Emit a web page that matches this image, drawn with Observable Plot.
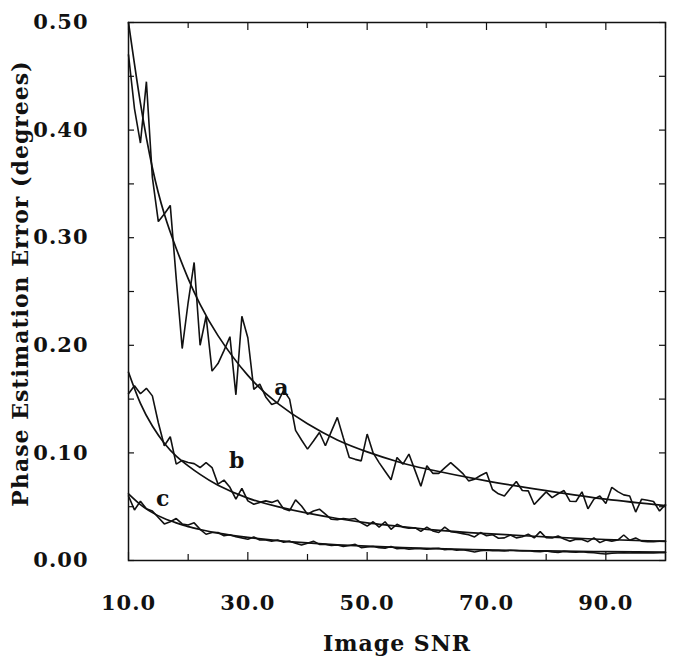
<!DOCTYPE html>
<html>
<head>
<meta charset="utf-8">
<script src="https://cdn.jsdelivr.net/npm/d3@7"></script>
<script src="https://cdn.jsdelivr.net/npm/@observablehq/plot@0.6"></script>
<style>
  html, body { margin: 0; padding: 0; background: #fff; }
  svg { display: block; }
</style>
</head>
<body>
<div id="chart"></div>
<script>
// ---- data ----
const xLabel = "Image SNR";
const yLabel = "Phase Estimation Error (degrees)";
const xTickLabels = [10, 30, 50, 70, 90];
const xMinorTicks = [20, 40, 60, 80, 100];
const yTickLabels = [0, 0.1, 0.2, 0.3, 0.4, 0.5];
const yMinorTicks = [0.05, 0.15, 0.25, 0.35, 0.45];

// smooth fitted curves
const fitX = [10, 12, 14, 16, 18, 20, 22, 25, 30, 35, 40, 45, 50, 55, 60, 70, 80, 90, 100];
const fitA = [0.500, 0.425, 0.365, 0.322, 0.290, 0.262, 0.238, 0.209, 0.172, 0.146, 0.127, 0.112, 0.101, 0.092, 0.085, 0.074, 0.065, 0.057, 0.051];
const fitB = [0.175, 0.146, 0.125, 0.109, 0.097, 0.088, 0.080, 0.070, 0.058, 0.050, 0.044, 0.039, 0.035, 0.032, 0.029, 0.025, 0.022, 0.0195, 0.0177];
const fitC = [0.062, 0.052, 0.0445, 0.039, 0.035, 0.0315, 0.0288, 0.0255, 0.0215, 0.0185, 0.0163, 0.0146, 0.0133, 0.0122, 0.0113, 0.0099, 0.0089, 0.0082, 0.0077];

// measured (noisy) curves, SNR = 10 ... 100 step 1
const snr = d3.range(10, 101);
const measA = [0.47, 0.42, 0.388, 0.445, 0.356, 0.315, 0.322, 0.330, 0.262, 0.197,
  0.24, 0.277, 0.200, 0.227, 0.176, 0.183, 0.195, 0.208, 0.154, 0.227,
  0.207, 0.159, 0.164, 0.152, 0.145, 0.147, 0.158, 0.150, 0.121, 0.112,
  0.1035, 0.111, 0.119, 0.1066, 0.12, 0.133, 0.114, 0.0957, 0.094, 0.0926,
  0.1175, 0.10, 0.091, 0.083, 0.075, 0.0957, 0.0896, 0.0989, 0.084, 0.069,
  0.088, 0.081, 0.081, 0.086, 0.091, 0.086, 0.081, 0.074, 0.0756, 0.079,
  0.0818, 0.066, 0.062, 0.060, 0.067, 0.0734, 0.065, 0.0647, 0.052, 0.058,
  0.0638, 0.0585, 0.062, 0.065, 0.055, 0.0548, 0.0638, 0.048, 0.057, 0.060,
  0.053, 0.068, 0.064, 0.061, 0.060, 0.045, 0.057, 0.056, 0.0548, 0.046, 0.052];
const measB = [0.155, 0.1625, 0.155, 0.160, 0.153, 0.128, 0.1066, 0.115, 0.0896, 0.093,
  0.091, 0.090, 0.0864, 0.091, 0.0864, 0.071, 0.0747, 0.068, 0.057, 0.067,
  0.0554, 0.0523, 0.054, 0.0554, 0.054, 0.056, 0.048, 0.0463, 0.0563, 0.0507,
  0.043, 0.046, 0.0477, 0.043, 0.0383, 0.038, 0.039, 0.0383, 0.039, 0.035,
  0.032, 0.036, 0.031, 0.036, 0.029, 0.0337, 0.031, 0.030, 0.0305, 0.027,
  0.031, 0.0275, 0.026, 0.031, 0.0268, 0.026, 0.025, 0.024, 0.0219, 0.026,
  0.023, 0.024, 0.0207, 0.021, 0.0237, 0.021, 0.022, 0.0244, 0.021, 0.0268,
  0.0212, 0.021, 0.0228, 0.020, 0.018, 0.0197, 0.0195, 0.0175, 0.021, 0.0166,
  0.019, 0.018, 0.019, 0.0237, 0.0188, 0.021, 0.018, 0.0175, 0.0175, 0.018, 0.018];
const measC = [0.060, 0.047, 0.055, 0.048, 0.046, 0.040, 0.034, 0.036, 0.039, 0.034,
  0.033, 0.035, 0.029, 0.0244, 0.026, 0.026, 0.023, 0.024, 0.022, 0.021,
  0.0197, 0.0219, 0.019, 0.019, 0.018, 0.019, 0.017, 0.018, 0.016, 0.0144,
  0.016, 0.018, 0.015, 0.015, 0.014, 0.0145, 0.013, 0.014, 0.0150, 0.012,
  0.0125, 0.013, 0.012, 0.0115, 0.013, 0.011, 0.0115, 0.0105, 0.011, 0.0110,
  0.0105, 0.011, 0.0114, 0.010, 0.0105, 0.0095, 0.0100, 0.0090, 0.0079, 0.0090,
  0.0095, 0.0090, 0.0092, 0.0088, 0.0095, 0.0092, 0.0088, 0.009, 0.0085, 0.0082,
  0.0088, 0.008, 0.0075, 0.0085, 0.008, 0.0078, 0.0082, 0.0075, 0.0072, 0.0065,
  0.0060, 0.0068, 0.007, 0.0072, 0.0070, 0.0073, 0.0071, 0.0072, 0.0070, 0.0072, 0.0073];

// curve labels
const curveNames = ["a", "b", "c"];
const curveLabelX = [35.7, 28.2, 15.8];
const curveLabelY = [0.160, 0.0926, 0.057];

// ---- build tables ----
const fitRows = [];
[["a", fitA], ["b", fitB], ["c", fitC]].forEach(([k, arr]) =>
  arr.forEach((v, i) => fitRows.push({series: k, x: fitX[i], y: v})));
const measRows = [];
[["a", measA], ["b", measB], ["c", measC]].forEach(([k, arr]) =>
  arr.forEach((v, i) => measRows.push({series: k, x: snr[i], y: v})));
const labelRows = curveNames.map((n, i) => ({name: n, x: curveLabelX[i], y: curveLabelY[i]}));

// ---- layout ----
const W = 692, H = 663;
const mL = 128, mR = 27, mT = 22, mB = 103;
const innerW = W - mL - mR, innerH = H - mT - mB;
const FONT = "'DejaVu Serif', 'Liberation Serif', serif";
const tickLen = 6, tickLenMajor = 8;
const ink = "#111";

const chart = Plot.plot({
  width: W,
  height: H,
  marginLeft: mL, marginRight: mR, marginTop: mT, marginBottom: mB,
  style: {fontFamily: FONT, fontSize: "21px", fontWeight: "bold", color: ink, background: "#fff"},
  x: {domain: [10, 100]},
  y: {domain: [0, 0.5]},
  marks: [
    // tick labels
    Plot.axisX({ticks: xTickLabels, tickSize: 0, tickPadding: 35, tickFormat: d => d.toFixed(1),
                label: null, fontSize: 21, fontWeight: "bold", style: {letterSpacing: "1px"}}),
    Plot.axisY({ticks: yTickLabels, tickSize: 0, tickPadding: 40, tickFormat: d => d.toFixed(2),
                label: null, fontSize: 21, fontWeight: "bold", style: {letterSpacing: "1px"}}),
    // inward ticks: bottom & top
    Plot.tickX(xMinorTicks, {x: d => d, insetTop: innerH - tickLen, stroke: ink, strokeWidth: 1.2}),
    Plot.tickX(xTickLabels, {x: d => d, insetTop: innerH - tickLenMajor, stroke: ink, strokeWidth: 1.2}),
    Plot.tickX(xMinorTicks, {x: d => d, insetBottom: innerH - tickLen, stroke: ink, strokeWidth: 1.2}),
    Plot.tickX(xTickLabels, {x: d => d, insetBottom: innerH - tickLenMajor, stroke: ink, strokeWidth: 1.2}),
    // inward ticks: left & right
    Plot.tickY([...yTickLabels, ...yMinorTicks], {y: d => d, insetRight: innerW - tickLen, stroke: ink, strokeWidth: 1.2}),
    Plot.tickY([...yTickLabels, ...yMinorTicks], {y: d => d, insetLeft: innerW - tickLen, stroke: ink, strokeWidth: 1.2}),
    // curves
    Plot.line(fitRows, {x: "x", y: "y", z: "series", curve: "natural", stroke: ink, strokeWidth: 1.7}),
    Plot.line(measRows, {x: "x", y: "y", z: "series", curve: "linear", stroke: ink, strokeWidth: 1.6, strokeLinejoin: "miter"}),
    // curve labels
    Plot.text(labelRows, {x: "x", y: "y", text: "name", fontSize: 22, fontWeight: "bold", fill: ink}),
    // axis titles
    Plot.text([xLabel], {frameAnchor: "bottom", dy: 90, text: d => d, textAnchor: "middle",
                         fontSize: 22, fontWeight: "bold", fill: ink, style: {letterSpacing: "1.2px"}}),
    Plot.text([yLabel], {frameAnchor: "left", dx: -108, dy: -8, rotate: -90, text: d => d, textAnchor: "middle",
                         fontSize: 22, fontWeight: "bold", fill: ink, style: {letterSpacing: "1.2px"}}),
    Plot.frame({stroke: ink, strokeWidth: 1.5})
  ]
});
// letter spacing for the text marks
chart.querySelectorAll("text").forEach(t => t.style.letterSpacing = "1px");
document.getElementById("chart").appendChild(chart);
</script>
</body>
</html>
